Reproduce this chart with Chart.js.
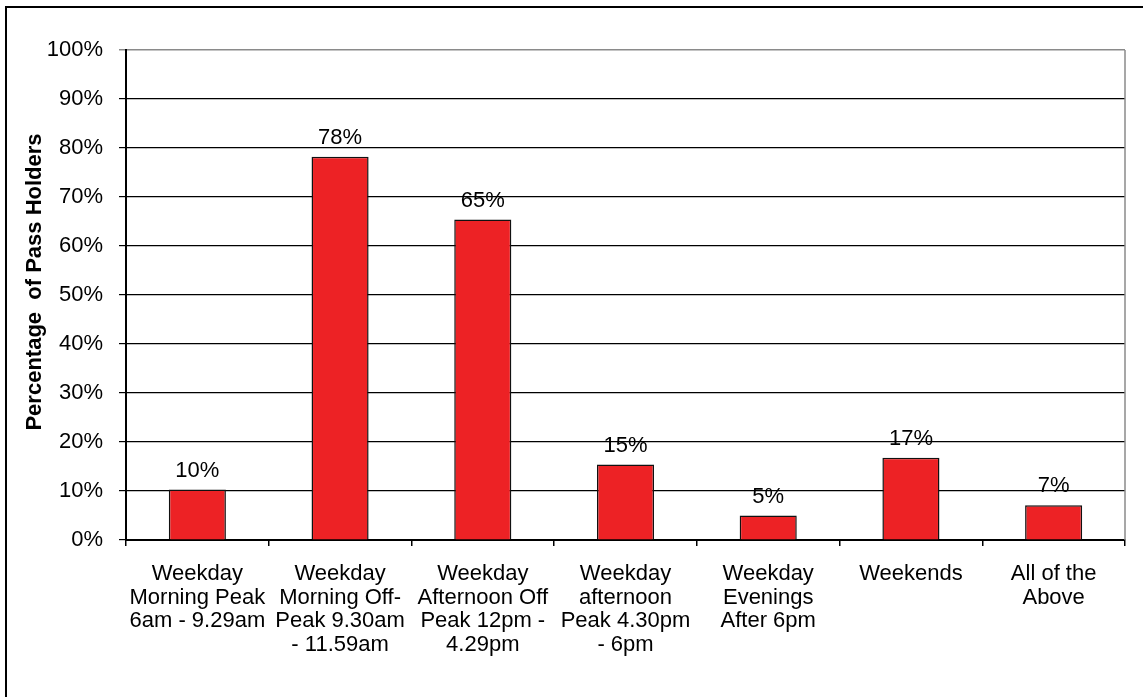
<!DOCTYPE html>
<html>
<head>
<meta charset="utf-8">
<script src="https://cdn.jsdelivr.net/npm/chart.js@4/dist/chart.umd.min.js"></script>
<style>
  html, body { margin: 0; padding: 0; background: #fff; }
  #wrap { width: 1143px; height: 697px; }
</style>
</head>
<body>
<div id="wrap"><canvas id="c" width="1143" height="697"></canvas></div>
<script>
const categories = [
  ["Weekday", "Morning Peak", "6am - 9.29am"],
  ["Weekday", "Morning Off-", "Peak 9.30am", "- 11.59am"],
  ["Weekday", "Afternoon Off", "Peak 12pm -", "4.29pm"],
  ["Weekday", "afternoon", "Peak 4.30pm", "- 6pm"],
  ["Weekday", "Evenings", "After 6pm"],
  ["Weekends"],
  ["All of the", "Above"]
];
const passHolders = [10.3, 78.2, 65.4, 15.4, 5.0, 16.8, 7.1];
const yTicks = [0, 10, 20, 30, 40, 50, 60, 70, 80, 90, 100];
const yTitle = "Percentage  of Pass Holders";

const FONT = "'Liberation Sans', Arial, sans-serif";

const framePlugin = {
  id: 'frame',
  beforeDraw(chart) {
    const ctx = chart.ctx;
    ctx.save();
    ctx.fillStyle = '#fff';
    ctx.fillRect(0, 0, chart.width, chart.height);
    ctx.strokeStyle = '#000';
    ctx.lineWidth = 2;
    ctx.beginPath();
    ctx.moveTo(6, chart.height + 2);
    ctx.lineTo(6, 7);
    ctx.lineTo(chart.width + 2, 7);
    ctx.stroke();
    ctx.restore();
  },
  afterDraw(chart) {
    const ctx = chart.ctx;
    const a = chart.chartArea;
    ctx.save();
    ctx.strokeStyle = '#8a8a8a';
    ctx.lineWidth = 1.5;
    ctx.beginPath();
    ctx.moveTo(a.right, a.top);
    ctx.lineTo(a.right, a.bottom);
    ctx.stroke();
    const meta = chart.getDatasetMeta(0);
    ctx.fillStyle = '#000';
    ctx.font = "22px " + FONT;
    ctx.textAlign = 'center';
    ctx.textBaseline = 'alphabetic';
    meta.data.forEach((bar, i) => {
      const v = chart.data.datasets[0].data[i];
      ctx.fillText(Math.round(v) + '%', bar.x, bar.y - 13);
    });
    ctx.translate(35, 282);
    ctx.rotate(-Math.PI / 2);
    ctx.font = "bold 22px " + FONT;
    ctx.textBaseline = 'middle';
    ctx.fillText(yTitle, 0, 0);
    ctx.restore();
  }
};

new Chart(document.getElementById('c'), {
  type: 'bar',
  data: {
    labels: categories,
    datasets: [{
      data: passHolders,
      backgroundColor: '#ED2225',
      borderColor: '#111',
      borderWidth: 1.5,
      categoryPercentage: 1.0,
      barPercentage: 0.4
    }]
  },
  options: {
    responsive: false,
    devicePixelRatio: 1,
    animation: false,
    layout: { padding: { top: 50, right: 18, left: 0, bottom: 0 } },
    plugins: {
      legend: { display: false },
      tooltip: { enabled: false }
    },
    scales: {
      x: {
        offset: true,
        border: { display: true, color: '#000', width: 2 },
        grid: {
          offset: true,
          drawOnChartArea: false,
          drawTicks: true,
          tickLength: 6,
          color: '#000',
          lineWidth: 1.5
        },
        ticks: {
          autoSkip: false,
          maxRotation: 0,
          minRotation: 0,
          padding: 16,
          color: '#000',
          font: { family: FONT, size: 22, lineHeight: 1.08 }
        },
        afterFit(scale) { scale.height = 157; }
      },
      y: {
        min: 0,
        max: 100,
        afterBuildTicks(scale) { scale.ticks = yTicks.map(v => ({ value: v })); },
        border: { display: true, color: '#000', width: 2 },
        grid: {
          drawTicks: true,
          tickLength: 7,
          color: (c) => (c.tick && c.tick.value === 100) ? '#8a8a8a' : '#000',
          lineWidth: (c) => (c.tick && c.tick.value === 100) ? 1.5 : 1.2
        },
        ticks: {
          padding: 16,
          color: '#000',
          font: { family: FONT, size: 22 },
          callback: (v) => v + '%'
        },
        afterFit(scale) { scale.width = 126; }
      }
    }
  },
  plugins: [framePlugin]
});
</script>
</body>
</html>
